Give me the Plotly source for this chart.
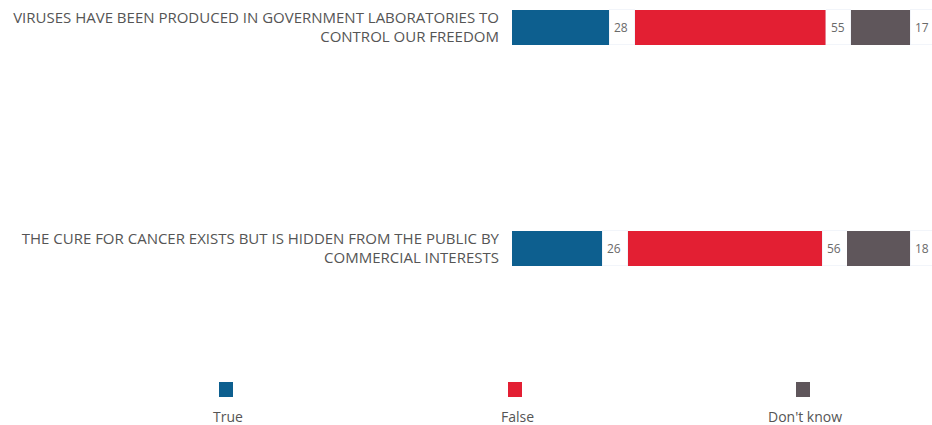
import plotly.graph_objects as go

# Survey statements (top row first) and response shares in percent
statements = [
    "VIRUSES HAVE BEEN PRODUCED IN GOVERNMENT LABORATORIES TO<br>CONTROL OUR FREEDOM",
    "THE CURE FOR CANCER EXISTS BUT IS HIDDEN FROM THE PUBLIC BY<br>COMMERCIAL INTERESTS",
]
series_names = ["True", "False", "Don't know"]
true_vals = [28, 26]
false_vals = [55, 56]
dontknow_vals = [17, 18]

colors = ["#0D5F8F", "#E31F33", "#5F565B"]
series_vals = [true_vals, false_vals, dontknow_vals]

W, H = 932, 425
LEFT = 512            # pixel where the bars start
PX_PER_UNIT = 3.48    # horizontal scale
GAP = 7.2             # blank space (in % units) after each segment for its label
X_MAX = (W - LEFT) / PX_PER_UNIT

# vertical placement: row centres at y=1 (top) and y=0 (bottom)
row_y = [1, 0]
Y_SPAN = H / 221.0
Y_TOP = 1 + 27 / 221.0
y_range = [Y_TOP - Y_SPAN, Y_TOP]
BAR_W = 35 / 221.0

fig = go.Figure()
annotations = []
starts = [0.0, 0.0]
for name, vals, col in zip(series_names, series_vals, colors):
    fig.add_trace(go.Bar(
        y=row_y, x=vals, orientation="h", name=name,
        marker=dict(color=col, line=dict(width=0)),
        width=BAR_W, showlegend=False, hoverinfo="x+name",
    ))
    for i, v in enumerate(vals):
        end = starts[i] + v
        annotations.append(dict(
            x=end, y=row_y[i], xref="x", yref="y", text=str(v),
            showarrow=False, xanchor="left", xshift=3,
            font=dict(family="Open Sans", size=12, color="#6A6A6A"),
        ))
        starts[i] = end
    # transparent spacer holding the label gap
    fig.add_trace(go.Bar(
        y=row_y, x=[GAP] * len(row_y), orientation="h",
        marker=dict(color="rgba(0,0,0,0)"), width=BAR_W,
        showlegend=False, hoverinfo="skip",
    ))
    for i in range(len(row_y)):
        starts[i] += GAP

# legend: coloured squares with the series names underneath
legend_px = [226, 515, 803]
shapes = []
for name, col, cx in zip(series_names, colors, legend_px):
    px0 = (cx - 7 - LEFT) / (W - LEFT)
    px1 = (cx + 7 - LEFT) / (W - LEFT)
    shapes.append(dict(
        type="rect", xref="paper", yref="paper",
        x0=px0, x1=px1, y0=1 - 397 / H, y1=1 - 382 / H,
        fillcolor=col, line=dict(width=0),
    ))
    annotations.append(dict(
        x=(cx + 2 - LEFT) / (W - LEFT), y=1 - 416 / H, xref="paper", yref="paper",
        text=name, showarrow=False, xanchor="center", yanchor="middle",
        font=dict(family="Open Sans", size=14, color="#555555"),
    ))

fig.update_layout(
    width=W, height=H,
    margin=dict(l=LEFT, r=0, t=0, b=0),
    paper_bgcolor="white", plot_bgcolor="white",
    barmode="stack",
    xaxis=dict(range=[0, X_MAX], visible=False, fixedrange=True),
    yaxis=dict(
        range=y_range, tickmode="array", tickvals=row_y, ticktext=statements,
        showgrid=False, zeroline=False, showline=False, ticks="",
        ticklabelstandoff=12,
        tickfont=dict(family="Open Sans", size=15, color="#555555"),
    ),
    annotations=annotations,
    shapes=shapes,
)

fig.write_html("out.html")
